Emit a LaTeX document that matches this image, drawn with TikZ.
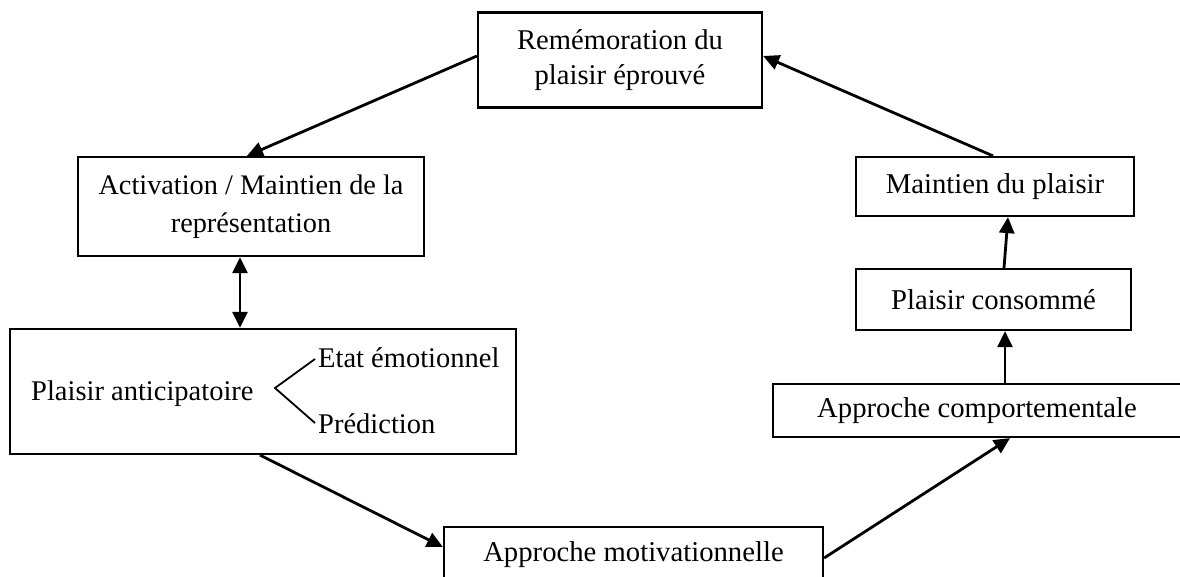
\documentclass[tikz,border=0pt]{standalone}
\usepackage{fontspec}
\setmainfont{Liberation Serif}
\usetikzlibrary{arrows.meta}
\begin{document}
\begin{tikzpicture}[x=1pt,y=-1pt,
  box/.style={draw, line width=2.2pt, inner sep=0pt, align=center,
    font=\fontsize{28.7}{36}\selectfont},
  lbl/.style={inner sep=0pt, font=\fontsize{28.5}{36}\selectfont},
  arr/.style={line width=2.8pt, -{Triangle[length=16pt,width=15pt]}},
  darr/.style={line width=2.8pt, {Triangle[length=16pt,width=15pt]}-{Triangle[length=16pt,width=15pt]}},
]
\useasboundingbox (0,0) rectangle (1180,576);
% boxes
\node[box, minimum width=284pt, minimum height=95pt, font=\fontsize{28.6}{35}\selectfont] (rem) at (620,60) {Remémoration du\\plaisir éprouvé};
\node[box, minimum width=346pt, minimum height=99pt, font=\fontsize{28.3}{38}\selectfont] (act) at (251,206.5) {Activation / Maintien de la\\représentation};
\node[box, minimum width=506pt, minimum height=125pt] (pa) at (263,391.5) {};
\node[box, minimum width=379pt, minimum height=56pt] (mot) at (633.5,555) {Approche motivationnelle};
\node[box, minimum width=408pt, minimum height=53pt] (comp) at (977,410.5) {Approche comportementale};
\node[box, minimum width=275pt, minimum height=61pt] (cons) at (993.5,299.5) {Plaisir consommé};
\node[box, minimum width=278pt, minimum height=59pt] (maint) at (995,186.5) {Maintien du plaisir};
% texts inside the anticipation box
\node[lbl, anchor=base west] (pat) at (31,400) {Plaisir anticipatoire};
\node[lbl, anchor=base west] (etat) at (318,367) {Etat émotionnel};
\node[lbl, anchor=base west] (pred) at (318,433) {Prédiction};
\coordinate (bv) at (275,388);
\coordinate (bu) at (315,359);
\coordinate (bd) at (315,423);
\draw[line width=1.8pt] (bu) -- (bv) -- (bd);
% connectors
\draw[arr] ([yshift=4pt]rem.west) -- ([xshift=-4pt]act.north);
\draw[darr] ([xshift=-11pt]act.south) -- ([xshift=-11pt]act.south |- pa.north);
\draw[arr] ([xshift=-3pt]pa.south) -- ([yshift=8pt]mot.west);
\draw[arr] ([yshift=-3pt]mot.east) -- ([xshift=33pt]comp.south);
\draw[arr] ([xshift=28pt]comp.north) -- ([xshift=28pt]comp.north |- cons.south);
\draw[arr] ([xshift=10.5pt]cons.north) -- ([xshift=13pt]maint.south);
\draw[arr] ([xshift=-2pt]maint.north) -- ([yshift=4pt]rem.east);
\end{tikzpicture}
\end{document}
